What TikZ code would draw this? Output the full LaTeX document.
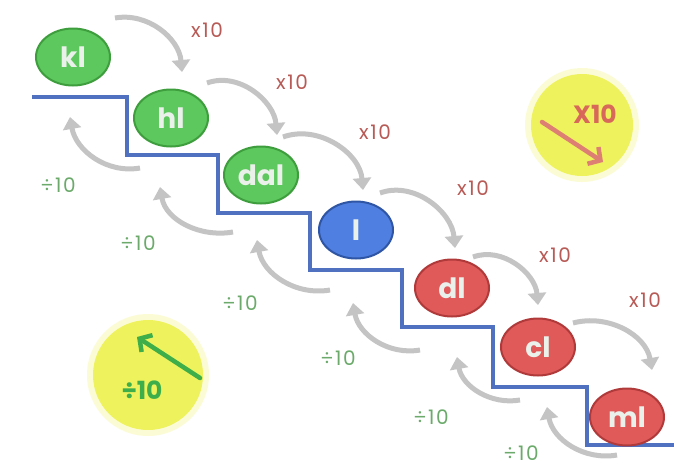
\documentclass[tikz,border=0pt]{standalone}
\usepackage{fontspec}
\setmainfont{Poppins}
\newfontfamily\lblfont[LetterSpace=8]{Poppins}
\usepackage{xcolor}
\usepackage{tikz}
\usetikzlibrary{positioning,arrows.meta,calc,shapes.geometric}
\definecolor{arrowgrey}{HTML}{C4C4C4}
\definecolor{mulred}{HTML}{B85A55}
\definecolor{divgreen}{HTML}{6BAA6B}
\definecolor{lgreen}{HTML}{5DC85D}
\definecolor{dgreen}{HTML}{3E9E3E}
\definecolor{lblue}{HTML}{4F7FE0}
\definecolor{dblue}{HTML}{2F55A5}
\definecolor{lred}{HTML}{E05A5A}
\definecolor{dred}{HTML}{B03A3A}
\definecolor{unittext}{HTML}{EAF0EA}
\definecolor{stairblue}{HTML}{5070C0}
\definecolor{sunyellow}{HTML}{EEF25C}
\definecolor{sunred}{HTML}{D8685A}
\definecolor{sungreen}{HTML}{3DAE4A}

\begin{document}
\begin{tikzpicture}[
    x=1pt,y=-1pt,
    unit/.style={ellipse,draw,line width=2pt,minimum width=74pt,minimum height=57pt,
                 inner sep=0pt,font=\fontsize{28}{28}\selectfont\bfseries,text=unittext},
    greyarrow/.style={-{Triangle[length=12pt,width=18pt]},line width=5pt,draw=arrowgrey},
    mul/.style={font=\lblfont\fontsize{20}{20}\selectfont,text=mulred},
    dvd/.style={font=\lblfont\fontsize{20}{20}\selectfont,text=divgreen},
    stair/.style={line width=4pt,draw=stairblue},
    sun/.style={circle,fill=sunyellow,inner sep=0pt},
    sunarrow/.style={-{Straight Barb[length=9pt,width=20pt]},line width=4.5pt,line cap=round}
]
\useasboundingbox[fill=white] (0,0) rectangle (674,466);

% the two yellow hints
\fill[sunyellow!25] (582,125) circle (57);
\node[sun,minimum size=102pt] (upsun) at (582,125) {};
\fill[sunyellow!25] (148,375) circle (61);
\node[sun,minimum size=110pt] (downsun) at (148,375) {};

\coordinate (upfrom) at ($(upsun)+(-40,-3)$);
\coordinate (upto)   at ($(upsun)+(21,37)$);
\draw[sunarrow,draw=sunred!85] (upfrom) -- (upto);
\node[font=\fontsize{25}{25}\selectfont\bfseries,text=sunred] (uptext) at ($(upsun)+(13,-11)$) {X10};

\coordinate (downfrom) at ($(downsun)+(52,3)$);
\coordinate (downto)   at ($(downsun)+(-11,-38)$);
\draw[sunarrow,draw=sungreen] (downfrom) -- (downto);
\node[font=\fontsize{25}{25}\selectfont\bfseries,text=sungreen] (downtext) at ($(downsun)+(-6,15)$) {÷10};

% staircase
\draw[stair] (32,97) -| (127,155) -| (218,213) -| (310,270) -| (402,327)
             -| (493,387) -| (587,445) -- (674,445);

% units
\node[unit,fill=lgreen,draw=dgreen] (kl)  at (73,57)   {kl};
\node[unit,fill=lgreen,draw=dgreen] (hl)  at (171,118) {hl};
\node[unit,fill=lgreen,draw=dgreen] (dal) at (261,175) {dal};
\node[unit,fill=lblue,draw=dblue]   (l)   at (356,230) {l};
\node[unit,fill=lred,draw=dred]     (dl)  at (452,288) {dl};
\node[unit,fill=lred,draw=dred]     (cl)  at (538,347) {cl};
\node[unit,fill=lred,draw=dred]     (ml)  at (627,417) {ml};

% x10 going down the stairs
\draw[greyarrow] ($(kl)+(42,-39)$)  to[out=10,in=95] ($(hl)+(11,-46)$);
\draw[greyarrow] ($(hl)+(36,-35)$)  to[out=20,in=95] ($(dal)+(16,-40)$);
\draw[greyarrow] ($(dal)+(22,-38)$) to[out=20,in=95] ($(l)+(7,-40)$);
\draw[greyarrow] ($(l)+(24,-37)$)   to[out=20,in=95] ($(dl)+(3,-40)$);
\draw[greyarrow] ($(dl)+(21,-31)$)  to[out=20,in=95] ($(cl)+(0,-42)$);
\draw[greyarrow] ($(cl)+(35,-24)$)  to[out=15,in=100] ($(ml)+(25,-47)$);

\node[mul] (mul1) at (207,30)  {x10};
\node[mul] (mul2) at (292,82)  {x10};
\node[mul] (mul3) at (375,132) {x10};
\node[mul] (mul4) at (473,188) {x10};
\node[mul] (mul5) at (555,255) {x10};
\node[mul] (mul6) at (645,300) {x10};

% divide by 10 going up the stairs
\draw[greyarrow] ($(hl)+(-31,50)$)  to[out=190,in=-80] ($(kl)+(-3,60)$);
\draw[greyarrow] ($(dal)+(-28,57)$) to[out=190,in=-80] ($(hl)+(-11,69)$);
\draw[greyarrow] ($(l)+(-26,60)$)   to[out=190,in=-80] ($(dal)+(-4,65)$);
\draw[greyarrow] ($(dl)+(-32,62)$)  to[out=190,in=-80] ($(l)+(-3,73)$);
\draw[greyarrow] ($(cl)+(-18,53)$)  to[out=190,in=-80] ($(dl)+(5,69)$);
\draw[greyarrow] ($(ml)+(-10,38)$)  to[out=190,in=-80] ($(cl)+(9,60)$);

\node[dvd] (dvd1) at (58,185)  {÷10};
\node[dvd] (dvd2) at (138,243) {÷10};
\node[dvd] (dvd3) at (240,303) {÷10};
\node[dvd] (dvd4) at (338,358) {÷10};
\node[dvd] (dvd5) at (431,417) {÷10};
\node[dvd] (dvd6) at (521,453) {÷10};
\end{tikzpicture}
\end{document}
